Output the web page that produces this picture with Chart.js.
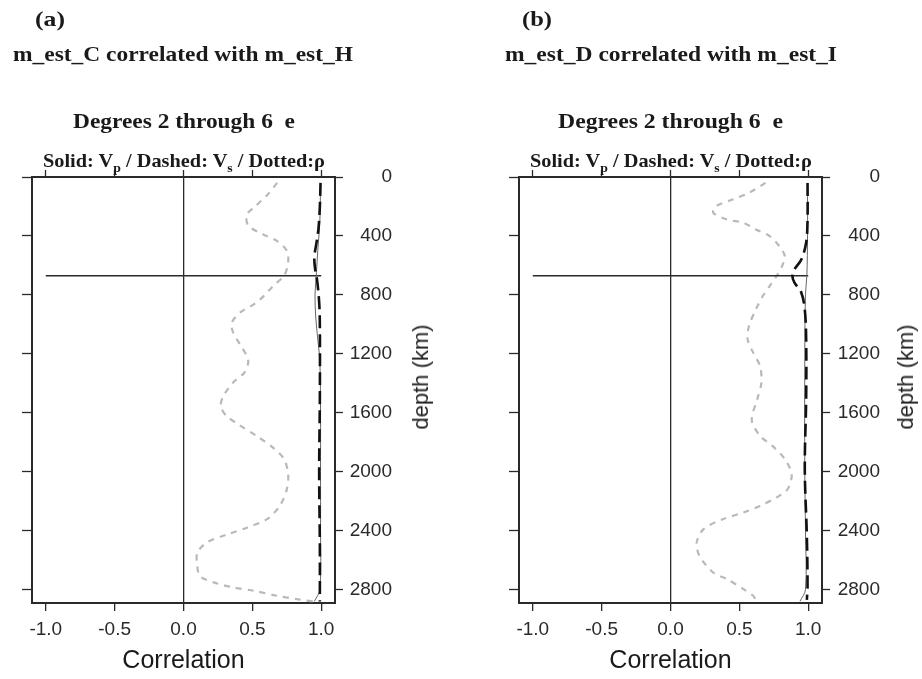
<!DOCTYPE html>
<html>
<head>
<meta charset="utf-8">
<script src="https://cdn.jsdelivr.net/npm/chart.js@4.4.0/dist/chart.umd.min.js"></script>
<style>
html, body { margin: 0; padding: 0; background: #fff; }
#wrap { position: relative; width: 922px; height: 679px; overflow: hidden; }
canvas { position: absolute; top: 0; }
.t { position: absolute; font-family: "Liberation Serif", "Times New Roman", serif; font-weight: bold; color: #1a1a1a; white-space: pre; line-height: 1; transform-origin: 0 50%; }
.t sub { font-size: 68%; vertical-align: -0.35em; line-height: 0; }
.ax { position: absolute; font-family: "Liberation Sans", Arial, sans-serif; color: #222; white-space: pre; line-height: 1; }
</style>
</head>
<body>
<div id="wrap">
  <canvas id="chartA" width="461" height="679" style="left:0"></canvas>
  <canvas id="chartB" width="461" height="679" style="left:461px"></canvas>
</div>
<script>
// ---------------- DATA ----------------
// depth in km, correlation in [-1, 1]
const xTicks = [-1.0, -0.5, 0.0, 0.5, 1.0];
const depthTicks = [0, 400, 800, 1200, 1600, 2000, 2400, 2800];
const depthMax = 2891;
const refLineX = [-1, 1];
const refLineDepth = 670;

// panel (a): m_est_C vs m_est_H
const rhoDepthA = [40, 120, 200, 255, 330, 390, 435, 500, 580, 670, 740, 810, 865, 920, 990, 1055, 1135, 1215, 1260, 1330, 1395, 1485, 1555, 1620, 1680, 1757, 1836, 1915, 2015, 2120, 2230, 2320, 2380, 2425, 2480, 2550, 2640, 2709, 2751, 2785, 2808, 2842, 2869, 2883];
const rhoA = [0.68, 0.61, 0.52, 0.46, 0.47, 0.58, 0.68, 0.75, 0.76, 0.73, 0.65, 0.58, 0.51, 0.41, 0.35, 0.36, 0.41, 0.46, 0.47, 0.44, 0.36, 0.29, 0.27, 0.31, 0.40, 0.53, 0.65, 0.73, 0.76, 0.75, 0.70, 0.61, 0.46, 0.32, 0.17, 0.10, 0.10, 0.12, 0.22, 0.36, 0.51, 0.68, 0.85, 0.97];
const vsDepthA = [40, 200, 350, 450, 540, 620, 700, 850, 1000, 1500, 2000, 2500, 2880];
const vsA = [0.995, 0.99, 0.98, 0.965, 0.95, 0.955, 0.97, 0.985, 0.99, 0.99, 0.985, 0.99, 0.99];
const vpDepthA = [40, 300, 500, 650, 800, 950, 1100, 1250, 1600, 2000, 2400, 2800, 2880];
const vpA = [0.995, 0.99, 0.975, 0.965, 0.955, 0.96, 0.975, 0.99, 0.995, 0.995, 0.995, 0.99, 0.95];

// panel (b): m_est_D vs m_est_I
const rhoDepthB = [40, 107, 153, 198, 243, 288, 311, 356, 401, 469, 537, 605, 672, 740, 808, 898, 1011, 1102, 1192, 1283, 1395, 1508, 1650, 1757, 1825, 1915, 2017, 2119, 2175, 2232, 2277, 2322, 2390, 2480, 2571, 2684, 2729, 2797, 2842, 2870];
const rhoB = [0.69, 0.57, 0.45, 0.33, 0.31, 0.41, 0.53, 0.62, 0.72, 0.79, 0.83, 0.81, 0.77, 0.72, 0.67, 0.62, 0.57, 0.56, 0.60, 0.65, 0.66, 0.63, 0.59, 0.65, 0.74, 0.83, 0.88, 0.85, 0.77, 0.65, 0.53, 0.38, 0.24, 0.19, 0.21, 0.31, 0.41, 0.53, 0.60, 0.62];
const vsDepthB = [40, 290, 445, 560, 627, 672, 717, 785, 900, 1100, 1500, 1980, 2435, 2780, 2870];
const vsB = [0.995, 0.995, 0.985, 0.95, 0.90, 0.885, 0.90, 0.95, 0.975, 0.985, 0.985, 0.975, 0.99, 0.995, 0.99];
const vpDepthB = [40, 400, 670, 800, 1200, 2000, 2400, 2800, 2880];
const vpB = [0.995, 0.995, 0.99, 0.98, 0.975, 0.975, 0.98, 0.98, 0.94];

// ---------------- HELPERS ----------------
const pts = (xs, ds) => xs.map((x, i) => ({ x: x, y: ds[i] }));
const INK = '#2a2a2a';
const tickFont = { family: 'Liberation Sans, Arial, sans-serif', size: 19 };

function makeChart(id, leftW, rightW, padRight, rhoD, rho, vsD, vs, vpD, vp) {
    return new Chart(document.getElementById(id), {
        type: 'scatter',
        data: {
            datasets: [
                { data: pts(vs, vsD), showLine: true, borderColor: '#111', borderWidth: 2.6, borderDash: [13, 6], tension: 0.35 },
                { data: pts(vp, vpD), showLine: true, borderColor: '#666', borderWidth: 1, tension: 0.35 },
                { data: pts(refLineX, refLineX.map(() => refLineDepth)), showLine: true, borderColor: INK, borderWidth: 1.3 },
                { data: pts(rho, rhoD), showLine: true, borderColor: '#b9b9b9', borderWidth: 2.2, borderDash: [6, 6], tension: 0.3 }
            ]
        },
        options: {
            responsive: false,
            animation: false,
            layout: { padding: { left: 0, top: 0, bottom: 0, right: padRight } },
            elements: { point: { radius: 0 } },
            plugins: { legend: { display: false }, tooltip: { enabled: false } },
            scales: {
                x: {
                    type: 'linear', position: 'bottom', min: -1.1, max: 1.1,
                    afterFit: s => { s.height = 76; },
                    afterBuildTicks: s => { s.ticks = xTicks.map(v => ({ value: v })); },
                    ticks: { callback: v => v.toFixed(1), font: tickFont, color: INK, padding: 7, maxRotation: 0, autoSkip: false },
                    grid: { drawOnChartArea: true, color: c => (c.tick && c.tick.value === 0 ? INK : 'rgba(0,0,0,0)'), lineWidth: 1.3, tickColor: INK, tickLength: 8, tickWidth: 1.3 },
                    border: { display: true, color: INK, width: 2 },
                    title: { display: true, text: 'Correlation', font: { family: 'Liberation Sans, Arial, sans-serif', size: 25 }, color: '#1a1a1a', padding: { top: 0, bottom: 3 } }
                },
                xTop: {
                    type: 'linear', position: 'top', min: -1.1, max: 1.1,
                    afterFit: s => { s.height = 177; },
                    afterBuildTicks: s => { s.ticks = xTicks.map(v => ({ value: v })); },
                    ticks: { display: false },
                    grid: { drawOnChartArea: false, tickColor: INK, tickLength: 7, tickWidth: 1.3 },
                    border: { display: true, color: INK, width: 2 }
                },
                y: {
                    type: 'linear', position: 'right', reverse: true, min: 0, max: depthMax,
                    afterFit: s => { s.width = rightW; },
                    afterBuildTicks: s => { s.ticks = depthTicks.map(v => ({ value: v })); },
                    ticks: { callback: v => String(v), crossAlign: 'far', font: tickFont, color: INK, padding: 6, autoSkip: false },
                    grid: { drawOnChartArea: false, tickColor: INK, tickLength: 8, tickWidth: 1.3 },
                    border: { display: true, color: INK, width: 2 }
                },
                yLeft: {
                    type: 'linear', position: 'left', reverse: true, min: 0, max: depthMax,
                    afterFit: s => { s.width = leftW; },
                    afterBuildTicks: s => { s.ticks = depthTicks.map(v => ({ value: v })); },
                    ticks: { display: false },
                    grid: { drawOnChartArea: false, tickColor: INK, tickLength: 10, tickWidth: 1.3 },
                    border: { display: true, color: INK, width: 2 }
                }
            }
        }
    });
}

makeChart('chartA', 32, 57, 69, rhoDepthA, rhoA, vsDepthA, vsA, vpDepthA, vpA);
makeChart('chartB', 58, 58, 42, rhoDepthB, rhoB, vsDepthB, vsB, vpDepthB, vpB);

// ---------------- TEXT ----------------
const legendHtml = 'Solid: V<sub>p</sub> / Dashed: V<sub>s</sub> / Dotted:\u03c1';
const texts = [
    ['(a)', 35, 19, 30, 21],
    ['m_est_C correlated with m_est_H', 13, 54, 340, 21],
    ['Degrees 2 through 6  e', 73, 121, 222, 22],
    [legendHtml, 43, 160, 282, 19],
    ['(b)', 522, 19, 30, 21],
    ['m_est_D correlated with m_est_I', 505, 54, 332, 21],
    ['Degrees 2 through 6  e', 558, 121, 225, 22],
    [legendHtml, 530, 160, 282, 19]
];
const wrap = document.getElementById('wrap');
texts.forEach(([html, x, y, w, size]) => {
    const el = document.createElement('div');
    el.className = 't';
    el.innerHTML = html;
    el.style.fontSize = size + 'px';
    wrap.appendChild(el);
    const r = el.getBoundingClientRect();
    el.style.left = x + 'px';
    el.style.top = (y - r.height / 2) + 'px';
    el.style.transform = 'scaleX(' + (w / r.width).toFixed(3) + ')';
});

[421, 906].forEach(cx => {
    const el = document.createElement('div');
    el.className = 'ax';
    el.textContent = 'depth (km)';
    el.style.fontSize = '22px';
    el.style.left = cx + 'px';
    el.style.top = '377px';
    el.style.transform = 'translate(-50%, -50%) rotate(-90deg)';
    wrap.appendChild(el);
});
</script>
</body>
</html>
